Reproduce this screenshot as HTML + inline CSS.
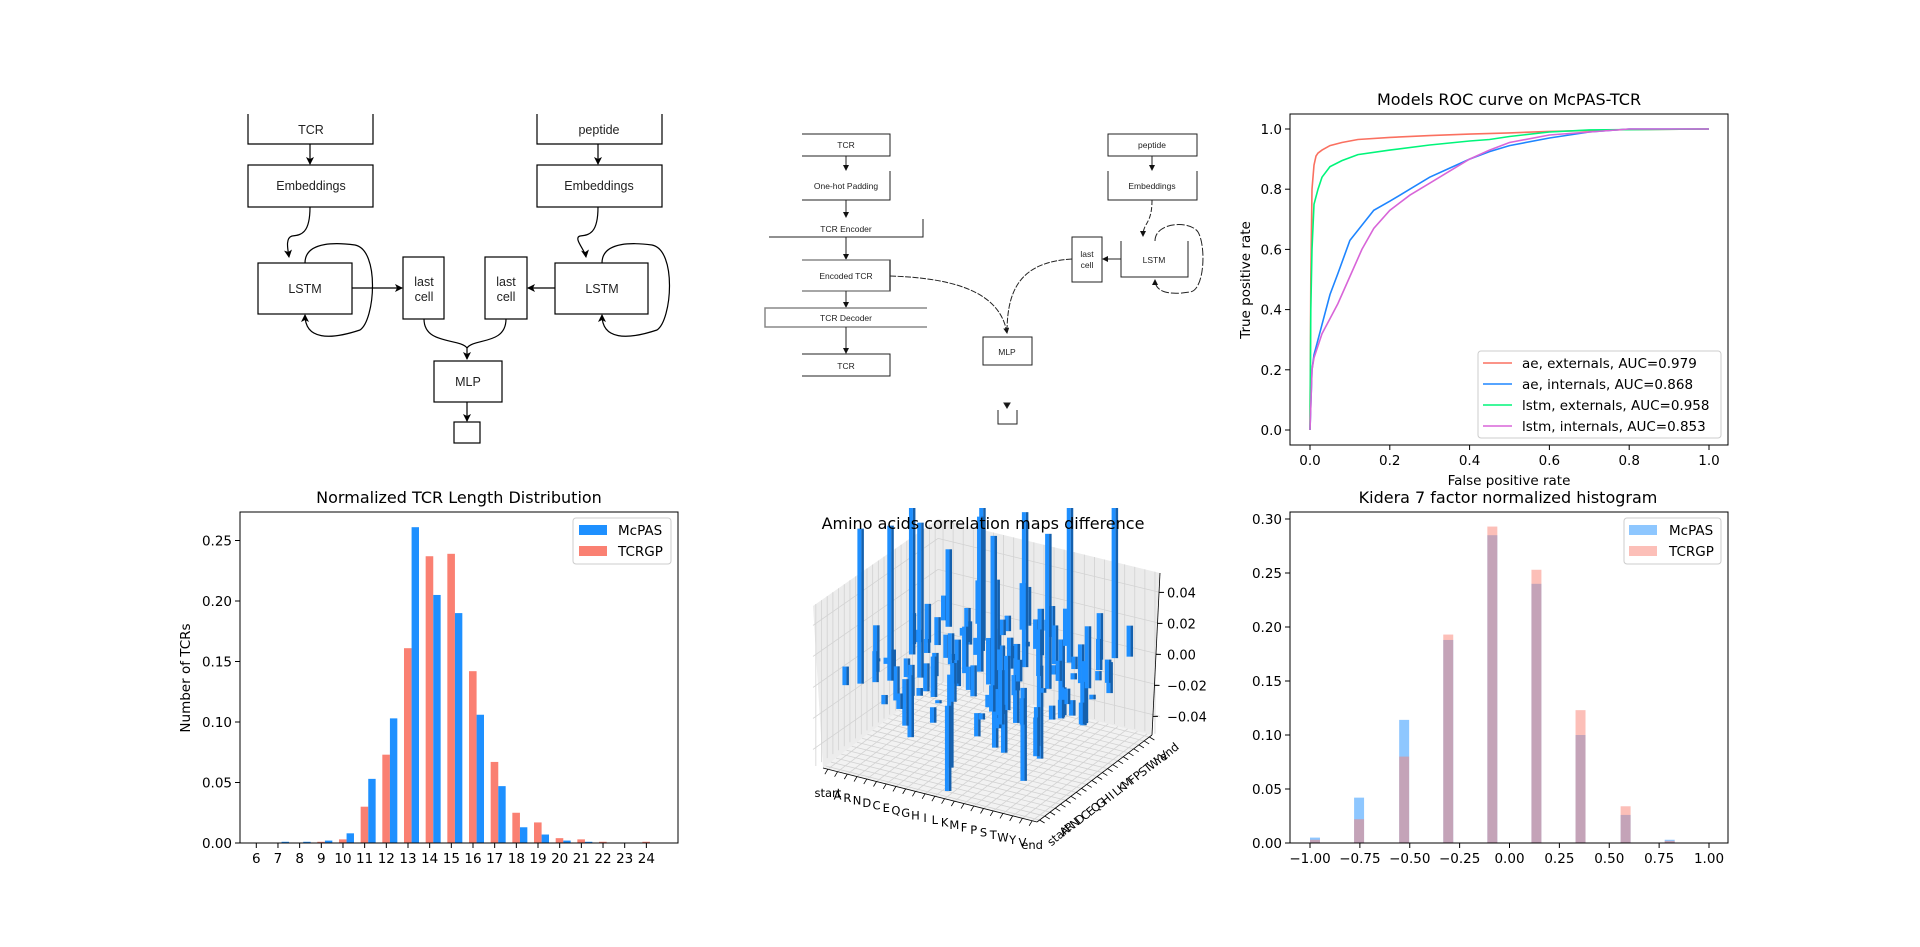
<!DOCTYPE html>
<html><head><meta charset="utf-8"><style>
html,body{margin:0;padding:0;background:#fff;}
svg{display:block;}
.mpl{font-family:"DejaVu Sans","Liberation Sans",sans-serif;fill:#000;}
.dg{font-family:"Liberation Sans",Arial,sans-serif;fill:#222;}
</style></head><body>
<svg id="fig" xmlns="http://www.w3.org/2000/svg" width="1920" height="947" viewBox="0 0 1920 947">
<defs>
<marker id="arr" markerWidth="8" markerHeight="8" refX="7" refY="4" orient="auto" markerUnits="userSpaceOnUse"><path d="M0,0 L8,4 L0,8 L2,4 Z" fill="#000"/></marker>
<marker id="arr2" markerWidth="6" markerHeight="6" refX="5" refY="3" orient="auto" markerUnits="userSpaceOnUse"><path d="M0,0 L6,3 L0,6 Z" fill="#111"/></marker>
<clipPath id="clip3d"><rect x="780" y="508" width="420" height="360"/></clipPath>
</defs>

<!-- Diagram 1 -->
<g stroke="#000" stroke-width="1.2" fill="none">
  <path d="M248,114 V144 H373 V114"/>
  <path d="M537,114 V144 H662 V114"/>
  <line x1="310" y1="144" x2="310" y2="164" marker-end="url(#arr)"/>
  <line x1="598" y1="144" x2="598" y2="164" marker-end="url(#arr)"/>
  <rect x="248" y="165" width="125" height="42"/>
  <rect x="537" y="165" width="125" height="42"/>
  <path d="M310,207 C310,235 300,235 292,236 C285,238 288,250 289,257" marker-end="url(#arr)"/>
  <path d="M598,207 C598,235 588,235 580,236 C573,238 585,250 586,257" marker-end="url(#arr)"/>
  <rect x="258" y="263" width="94" height="51"/>
  <rect x="555" y="263" width="93" height="51"/>
  <path d="M305,263 C305,240 340,243 355,245 C380,250 375,320 360,330 C330,340 305,340 305,315" marker-end="url(#arr)"/>
  <path d="M602,263 C602,240 637,243 652,245 C677,250 672,320 657,330 C627,340 602,340 602,315" marker-end="url(#arr)"/>
  <line x1="352" y1="288" x2="402" y2="288" marker-end="url(#arr)"/>
  <line x1="555" y1="288" x2="528" y2="288" marker-end="url(#arr)"/>
  <rect x="403" y="257" width="41" height="62"/>
  <rect x="485" y="257" width="42" height="62"/>
  <path d="M424,319 C424,345 460,338 467,348 L467,359" marker-end="url(#arr)"/>
  <path d="M506,319 C506,345 474,338 467,348" />
  <rect x="434" y="361" width="68" height="41"/>
  <line x1="467" y1="402" x2="467" y2="421" marker-end="url(#arr)"/>
  <rect x="454" y="422" width="26" height="21"/>
</g>
<g class="dg" font-size="12.5" text-anchor="middle">
  <text x="311" y="134">TCR</text>
  <text x="599" y="134">peptide</text>
  <text x="311" y="190">Embeddings</text>
  <text x="599" y="190">Embeddings</text>
  <text x="305" y="293">LSTM</text>
  <text x="602" y="293">LSTM</text>
  <text x="424" y="286">last</text>
  <text x="424" y="301">cell</text>
  <text x="506" y="286">last</text>
  <text x="506" y="301">cell</text>
  <text x="468" y="386">MLP</text>
</g>

<!-- Diagram 2 -->
<g stroke="#222" stroke-width="1" fill="none">
  <path d="M802,134 H890 V156 H802"/>
  <line x1="846" y1="156" x2="846" y2="170" marker-end="url(#arr2)"/>
  <path d="M890,171 V200 H802"/>
  <line x1="846" y1="200" x2="846" y2="217" marker-end="url(#arr2)"/>
  <path d="M923,219 V237 H769"/>
  <line x1="846" y1="237" x2="846" y2="259" marker-end="url(#arr2)"/>
  <path d="M802,260 H890 V291 H802" stroke="#888" stroke-width="1.5"/>
  <line x1="890" y1="260" x2="890" y2="291"/>
  <line x1="846" y1="291" x2="846" y2="307" marker-end="url(#arr2)"/>
  <path d="M927,308 H765 V327 H927" stroke="#888" stroke-width="1.5"/>
  <line x1="846" y1="327" x2="846" y2="353" marker-end="url(#arr2)"/>
  <path d="M802,354 H890 V376 H802"/>
  <path d="M890,276 C950,278 1000,290 1007,333" stroke-dasharray="6,1.5" marker-end="url(#arr2)"/>
  <rect x="983" y="337" width="49" height="28"/>
  <path d="M998,410 V424 H1017 V410"/>
  <path d="M1004,403 L1010,403 L1007,408 Z" fill="#111"/>
  <rect x="1108" y="134" width="89" height="22"/>
  <line x1="1152" y1="156" x2="1152" y2="170" marker-end="url(#arr2)"/>
  <path d="M1108,171 V200 H1197 V171"/>
  <path d="M1152,200 C1152,225 1143,222 1143,236" stroke-dasharray="5,2" marker-end="url(#arr2)"/>
  <path d="M1121,241 V277 H1188 V241"/>
  <path d="M1155,241 C1155,222 1190,220 1198,232 C1206,245 1205,290 1190,292 C1165,296 1155,290 1155,280" stroke-dasharray="8,2" marker-end="url(#arr2)"/>
  <rect x="1072" y="237" width="30" height="45"/>
  <line x1="1121" y1="259" x2="1103" y2="259" marker-end="url(#arr2)"/>
  <path d="M1072,259 C1020,262 1007,290 1007,333" stroke-dasharray="6,1.5"/>
</g>
<g class="dg" font-size="8.5" text-anchor="middle" fill="#333">
  <text x="846" y="148">TCR</text>
  <text x="846" y="189">One-hot Padding</text>
  <text x="846" y="232">TCR Encoder</text>
  <text x="846" y="279">Encoded TCR</text>
  <text x="846" y="321">TCR Decoder</text>
  <text x="846" y="369">TCR</text>
  <text x="1007" y="355">MLP</text>
  <text x="1152" y="148">peptide</text>
  <text x="1152" y="189">Embeddings</text>
  <text x="1154" y="263">LSTM</text>
  <text x="1087" y="257">last</text>
  <text x="1087" y="268">cell</text>
</g>

<g id="roc"></g>
<g id="lenhist"></g>
<g id="three"></g>
<g id="kid"></g>
</svg>
<script>
// ---------- ROC data ----------
const aeExtFpr = [0,0.002,0.005,0.01,0.015,0.02,0.03,0.05,0.08,0.12,0.2,0.3,0.4,0.5,0.6,0.8,1];
const aeExtTpr = [0,0.5,0.8,0.88,0.91,0.92,0.93,0.945,0.955,0.965,0.972,0.978,0.983,0.987,0.992,0.998,1];
const aeIntFpr = [0,0.005,0.01,0.02,0.03,0.05,0.07,0.1,0.13,0.16,0.2,0.25,0.3,0.35,0.4,0.45,0.5,0.6,0.7,0.8,1];
const aeIntTpr = [0,0.2,0.25,0.3,0.35,0.45,0.52,0.63,0.68,0.73,0.76,0.8,0.84,0.87,0.9,0.925,0.945,0.97,0.99,1,1];
const lstmExtFpr = [0,0.002,0.005,0.01,0.02,0.03,0.05,0.08,0.12,0.2,0.3,0.4,0.45,0.5,0.6,0.7,1];
const lstmExtTpr = [0,0.4,0.6,0.75,0.8,0.84,0.875,0.895,0.915,0.93,0.947,0.96,0.965,0.975,0.99,0.997,1];
const lstmIntFpr = [0,0.005,0.01,0.02,0.03,0.05,0.07,0.1,0.13,0.16,0.2,0.25,0.3,0.35,0.4,0.45,0.5,0.6,0.7,0.8,1];
const lstmIntTpr = [0,0.2,0.24,0.28,0.32,0.37,0.42,0.51,0.6,0.67,0.73,0.78,0.82,0.86,0.9,0.93,0.955,0.98,0.99,1,1];
const rocLabels = ["ae, externals, AUC=0.979","ae, internals, AUC=0.868","lstm, externals, AUC=0.958","lstm, internals, AUC=0.853"];
const rocTicks = [0,0.2,0.4,0.6,0.8,1.0];
// ---------- TCR length data ----------
const lengths = [6,7,8,9,10,11,12,13,14,15,16,17,18,19,20,21,22,23,24];
const mcpasLen = [0,0.001,0.001,0.002,0.008,0.053,0.103,0.261,0.205,0.190,0.106,0.047,0.013,0.007,0.002,0.001,0,0,0];
const tcrgpLen = [0,0,0,0.001,0.003,0.030,0.073,0.161,0.237,0.239,0.142,0.067,0.025,0.017,0.004,0.003,0.001,0,0.001];
const lenYTicks = [0,0.05,0.10,0.15,0.20,0.25];
// ---------- Kidera data ----------
const kidBinLeft = [-1.0,-0.779,-0.553,-0.332,-0.111,0.110,0.331,0.557,0.778];
const kidBinWidth = 0.05;
const kidMcpas = [0.005,0.042,0.114,0.188,0.285,0.240,0.100,0.026,0.003];
const kidTcrgp = [0.003,0.022,0.080,0.193,0.293,0.253,0.123,0.034,0.002];
const kidXTicks = [-1.0,-0.75,-0.5,-0.25,0,0.25,0.5,0.75,1.0];
const kidYTicks = [0,0.05,0.10,0.15,0.20,0.25,0.30];
// ---------- 3D data ----------
const aminoLetters = ["start","A","R","N","D","C","E","Q","G","H","I","L","K","M","F","P","S","T","W","Y","V","end"];
const zTicks = [-0.04,-0.02,0,0.02,0.04];
const corrI = [1,2,3,4,5,6,7,8,9,10,11,12,13,14,15,16,17,18,19,20, 2,4,6,8,10,12,14,16,18,20, 1,3,5,7,9,11,13,15,17,19, 3,6,9,12,15,18, 2,5,8,11,14,17,20, 4,7,10,13,16,19, 1,6,11,16,21, 9,13,17,5,15,
 2,3,4,5,6,7,8,9,10,11,12,13,14,15,16,17,18,19,20,21, 1,2,3,4,5,7,8,9,10,11,12,13,14,15,16,17,18,19,20,21, 3,5,7,9,11,13,15,17,19,21];
const corrJ = [1,2,3,4,5,6,7,8,9,10,11,12,13,14,15,16,17,18,19,20, 5,8,11,14,17,20,2,4,6,8, 10,13,16,19,3,6,9,12,15,18, 17,2,20,5,9,13, 12,15,18,3,6,9,12, 19,10,1,16,13,4, 7,12,17,2,11, 15,20,1,9,4,
 7,9,13,1,15,11,19,3,17,14,8,6,10,20,3,1,11,16,9,5, 15,18,7,11,19,4,13,16,2,21,17,11,19,1,7,12,2,7,14,9, 10,6,16,21,2,7,3,10,13,14];
const corrV = [0.012,0.1,0.02,0.1,-0.03,0.1,0.015,-0.06,0.03,0.1,-0.05,0.02,0.1,-0.06,0.025,0.1,-0.04,0.03,0.1,0.02,
 0.03,-0.02,0.015,0.04,-0.03,0.02,-0.015,0.035,-0.025,0.01,
 -0.02,0.025,0.005,-0.035,0.02,0.015,-0.045,0.03,0.008,-0.02,
 0.05,-0.01,0.03,0.02,-0.06,0.004,
 0.02,-0.03,0.01,0.025,-0.02,0.003,0.04,
 -0.015,0.02,-0.01,0.03,0.006,-0.025,
 0.002,-0.004,0.003,0.002,-0.003,
 0.045,-0.05,0.035,-0.018,0.012,
 0.004,-0.012,0.018,-0.006,0.022,-0.015,0.01,0.026,-0.02,0.008,0.03,-0.008,0.014,-0.025,0.006,0.003,-0.018,0.02,-0.01,0.012,
 -0.008,0.016,-0.022,0.009,0.028,-0.005,0.011,-0.03,0.002,0.007,0.019,-0.013,0.024,0.004,-0.017,0.013,0.021,-0.009,0.006,-0.014,
 0.1,-0.04,0.1,0.025,-0.055,0.1,0.017,0.1,-0.028,0.015];

const NS="http://www.w3.org/2000/svg";
function mk(parent, tag, attrs, txt){const e=document.createElementNS(NS,tag);for(const k in attrs)e.setAttribute(k,attrs[k]);if(txt!==undefined)e.textContent=txt;parent.appendChild(e);return e;}
function fmt(v,d){return (v<0?"\u2212":"")+Math.abs(v).toFixed(d);}

// ===== ROC =====
(function(){
 const g=document.getElementById('roc');
 const L=1290,R=1728,T=114,B=445;
 const xs=v=>1310+v*399, ys=v=>430-v*301;
 const t=mk(g,'text',{x:1509,y:105,'text-anchor':'middle','font-size':16,class:'mpl'},'Models ROC curve on McPAS-TCR');
 
 
 const series=[[aeExtFpr,aeExtTpr,'#fa7060'],[aeIntFpr,aeIntTpr,'#1e85ff'],[lstmExtFpr,lstmExtTpr,'#00f57a'],[lstmIntFpr,lstmIntTpr,'#d865d8']];
 series.forEach((s,k)=>{
  const d=s[0].map((x,i)=>(i?'L':'M')+xs(x).toFixed(1)+','+ys(s[1][i]).toFixed(1)).join(' ');
  const p=mk(g,'path',{d:d,fill:'none',stroke:s[2],'stroke-width':1.6});
  
  
 });
 const fr=mk(g,'rect',{x:L,y:T,width:R-L,height:B-T,fill:'none',stroke:'#000','stroke-width':1});
 
 
 rocTicks.forEach(v=>{
  mk(g,'line',{x1:xs(v),x2:xs(v),y1:B,y2:B+5,stroke:'#000'});
  const a=mk(g,'text',{x:xs(v),y:B+20,'text-anchor':'middle','font-size':13.5,class:'mpl'},v.toFixed(1));
  
  
  mk(g,'line',{x1:L-5,x2:L,y1:ys(v),y2:ys(v),stroke:'#000'});
  const b=mk(g,'text',{x:L-8,y:ys(v)+5,'text-anchor':'end','font-size':13.5,class:'mpl'},v.toFixed(1));
  
  
 });
 const xl=mk(g,'text',{x:1509,y:485,'text-anchor':'middle','font-size':13.5,class:'mpl'},'False positive rate');
 
 
 const yl=mk(g,'text',{x:0,y:0,'text-anchor':'middle','font-size':13.5,class:'mpl',transform:'translate(1250,280) rotate(-90)'},'True positive rate');
 
 
 const lg=mk(g,'rect',{x:1478,y:351,width:243,height:87,fill:'#fff','fill-opacity':0.8,stroke:'#ccc',rx:3});
 
 
 rocLabels.forEach((s,k)=>{
  const y=363+k*21;
  mk(g,'line',{x1:1483,x2:1512,y1:y,y2:y,stroke:series[k][2],'stroke-width':1.6});
  const e=mk(g,'text',{x:1522,y:y+5,'font-size':13.5,class:'mpl'},s);
  
  
 });
})();

// ===== Length histogram =====
(function(){
 const g=document.getElementById('lenhist');
 const L=240,R=678,T=512,B=843;
 const xs=v=>256.3+(v-6)*21.67, ys=v=>843-v/0.05*60.5;
 const t=mk(g,'text',{x:459,y:503,'text-anchor':'middle','font-size':16,class:'mpl'},'Normalized TCR Length Distribution');
 
 
 lengths.forEach((l,i)=>{
  const r=mk(g,'rect',{x:xs(l)-4,y:ys(tcrgpLen[i]),width:7.6,height:B-ys(tcrgpLen[i]),fill:'#fa8072'});
  
  
  const b=mk(g,'rect',{x:xs(l)+3.6,y:ys(mcpasLen[i]),width:7.4,height:B-ys(mcpasLen[i]),fill:'#1e90ff'});
  
  
  mk(g,'line',{x1:xs(l),x2:xs(l),y1:B,y2:B+5,stroke:'#000'});
  const a=mk(g,'text',{x:xs(l),y:B+20,'text-anchor':'middle','font-size':13.5,class:'mpl'},String(l));
  
  
 });
 lenYTicks.forEach(v=>{
  mk(g,'line',{x1:L-5,x2:L,y1:ys(v),y2:ys(v),stroke:'#000'});
  const b=mk(g,'text',{x:L-8,y:ys(v)+5,'text-anchor':'end','font-size':13.5,class:'mpl'},v.toFixed(2));
  
  
 });
 const fr=mk(g,'rect',{x:L,y:T,width:R-L,height:B-T,fill:'none',stroke:'#000'});
 
 
 const yl=mk(g,'text',{x:0,y:0,'text-anchor':'middle','font-size':13.5,class:'mpl',transform:'translate(190,678) rotate(-90)'},'Number of TCRs');
 
 
 const lg=mk(g,'rect',{x:573,y:518,width:98,height:46,fill:'#fff','fill-opacity':0.8,stroke:'#ccc',rx:3});
 
 
 [['McPAS','#1e90ff',530],['TCRGP','#fa8072',551]].forEach(e=>{
  mk(g,'rect',{x:579,y:e[2]-5,width:28,height:10,fill:e[1]});
  const tx=mk(g,'text',{x:618,y:e[2]+5,'font-size':13.5,class:'mpl'},e[0]);
  
  
 });
})();

// ===== Kidera =====
(function(){
 const g=document.getElementById('kid');
 const L=1290,R=1728,T=512,B=843;
 const xs=v=>1310+(v+1)*199.5, ys=v=>843-v*1080;
 const t=mk(g,'text',{x:1508,y:503,'text-anchor':'middle','font-size':16,class:'mpl'},'Kidera 7 factor normalized histogram');
 
 
 kidBinLeft.forEach((x0,i)=>{
  const a=mk(g,'rect',{x:xs(x0),y:ys(kidMcpas[i]),width:xs(x0+kidBinWidth)-xs(x0),height:B-ys(kidMcpas[i]),fill:'#1e90ff','fill-opacity':0.5});
  
  
  const b=mk(g,'rect',{x:xs(x0),y:ys(kidTcrgp[i]),width:xs(x0+kidBinWidth)-xs(x0),height:B-ys(kidTcrgp[i]),fill:'#fa8072','fill-opacity':0.5});
  
  
 });
 kidXTicks.forEach(v=>{
  mk(g,'line',{x1:xs(v),x2:xs(v),y1:B,y2:B+5,stroke:'#000'});
  const a=mk(g,'text',{x:xs(v),y:B+20,'text-anchor':'middle','font-size':13.5,class:'mpl'},fmt(v,2));
  
  
 });
 kidYTicks.forEach(v=>{
  mk(g,'line',{x1:L-5,x2:L,y1:ys(v),y2:ys(v),stroke:'#000'});
  const b=mk(g,'text',{x:L-8,y:ys(v)+5,'text-anchor':'end','font-size':13.5,class:'mpl'},v.toFixed(2));
  
  
 });
 const fr=mk(g,'rect',{x:L,y:T,width:R-L,height:B-T,fill:'none',stroke:'#000'});
 
 
 const lg=mk(g,'rect',{x:1624,y:518,width:97,height:46,fill:'#fff','fill-opacity':0.8,stroke:'#ccc',rx:3});
 
 
 [['McPAS','#1e90ff',530],['TCRGP','#fa8072',551]].forEach(e=>{
  mk(g,'rect',{x:1629,y:e[2]-5,width:28,height:10,fill:e[1],'fill-opacity':0.5});
  const tx=mk(g,'text',{x:1669,y:e[2]+5,'font-size':13.5,class:'mpl'},e[0]);
  
  
 });
})();

// ===== 3D =====
(function(){
 const g=document.getElementById('three');
 const Lp=[823,768],Fp=[1037,822],Rp=[1152,735];
 const n=aminoLetters.length;
 const P=(u,v)=>[Lp[0]+u*(Fp[0]-Lp[0])+v*(Rp[0]-Fp[0]), Lp[1]+u*(Fp[1]-Lp[1])+v*(Rp[1]-Fp[1])];
 const zpx=z=>(z+0.052)*1550;
 const H=162;
 const pts=a=>a.map(p=>p[0].toFixed(1)+','+p[1].toFixed(1)).join(' ');
 const fl=mk(g,'polygon',{points:pts([P(0,0),P(1,0),P(1,1),P(0,1)]),fill:'#f2f2f2',stroke:'none'});
 
 
 const a0=P(0,0),a1=P(0,1);
 const lw=mk(g,'polygon',{points:pts([a0,a1,[a1[0],a1[1]-H],[a0[0]-10,a0[1]-H]]),fill:'#ececec'});
 
 
 const b1=P(1,1);
 const bw=mk(g,'polygon',{points:pts([a1,b1,[b1[0]+8,b1[1]-H],[a1[0],a1[1]-H]]),fill:'#ebebeb'});
 
 
 const gs={stroke:'#d2d2d2','stroke-width':0.8};
 for(let k=0;k<n;k++){
  const f=(k+0.5)/n;
  let p=P(f,0),q=P(f,1); mk(g,'line',Object.assign({x1:p[0],y1:p[1],x2:q[0],y2:q[1]},gs));
  p=P(0,f);q=P(1,f); mk(g,'line',Object.assign({x1:p[0],y1:p[1],x2:q[0],y2:q[1]},gs));
  p=P(0,f); mk(g,'line',Object.assign({x1:p[0]-10*(1-f),y1:p[1],x2:p[0]-10*(1-f),y2:p[1]-H},gs));
  p=P(f,1); mk(g,'line',Object.assign({x1:p[0]+8*f,y1:p[1],x2:p[0]+8*f,y2:p[1]-H},gs));
 }
 zTicks.forEach(z=>{
  const h=zpx(z);
  mk(g,'line',Object.assign({x1:a0[0]-10,y1:a0[1]-h,x2:a1[0],y2:a1[1]-h},gs));
  mk(g,'line',Object.assign({x1:a1[0],y1:a1[1]-h,x2:b1[0]+8,y2:b1[1]-h},gs));
  const tl=mk(g,'text',{x:1167,y:b1[1]-h+5,'font-size':13,class:'mpl'},fmt(z,2));
  
  
  mk(g,'line',{x1:b1[0]+8*(h/H),y1:b1[1]-h,x2:b1[0]+8*(h/H)+5,y2:b1[1]-h,stroke:'#000'});
 });
 mk(g,'line',{x1:b1[0],y1:b1[1],x2:b1[0]+8,y2:b1[1]-H,stroke:'#000','stroke-width':0.8});
 mk(g,'line',{x1:Lp[0],y1:Lp[1],x2:Fp[0],y2:Fp[1],stroke:'#000','stroke-width':0.8});
 mk(g,'line',{x1:Fp[0],y1:Fp[1],x2:Rp[0],y2:Rp[1],stroke:'#000','stroke-width':0.8});
 aminoLetters.forEach((s,k)=>{
  const f=(k+0.5)/n;
  let p=P(f,0);
  mk(g,'line',{x1:p[0],y1:p[1],x2:p[0]-3,y2:p[1]+5,stroke:'#000','stroke-width':0.8});
  const t1=mk(g,'text',{x:p[0],y:p[1]+28,'text-anchor':'middle','font-size':11.5,class:'mpl'},s);
  
  
  p=P(1,f);
  mk(g,'line',{x1:p[0],y1:p[1],x2:p[0]+5,y2:p[1]+3,stroke:'#000','stroke-width':0.8});
  const t2=mk(g,'text',{x:0,y:0,'text-anchor':'middle','font-size':11.5,class:'mpl',transform:'translate('+(p[0]+22).toFixed(1)+','+(p[1]+18).toFixed(1)+') rotate(-40)'},s);
  
  
 });
 const bars=corrI.map((i,k)=>({i:i,j:corrJ[k],v:corrV[k]}));
 bars.forEach(b=>{b.p=P((b.i+0.5)/n,(b.j+0.5)/n);});
 bars.sort((a,b)=>a.p[1]-b.p[1]);
 const bg=mk(g,'g',{'clip-path':'url(#clip3d)'});
 bars.forEach(b=>{
  const y0=b.p[1]-zpx(0), y1=b.p[1]-zpx(b.v);
  const top=Math.min(y0,y1), h=Math.max(2,Math.abs(y1-y0));
  const r=mk(bg,'rect',{x:b.p[0]-3,y:top,width:4,height:h,fill:'#1e8fff'});
  
  
  mk(bg,'rect',{x:b.p[0]+1,y:top,width:2.5,height:h,fill:'#1560ad'});
 });
 const t=mk(g,'text',{x:983,y:529,'text-anchor':'middle','font-size':16,class:'mpl'},'Amino acids correlation maps difference');
 
 
})();
</script>
</body></html>
